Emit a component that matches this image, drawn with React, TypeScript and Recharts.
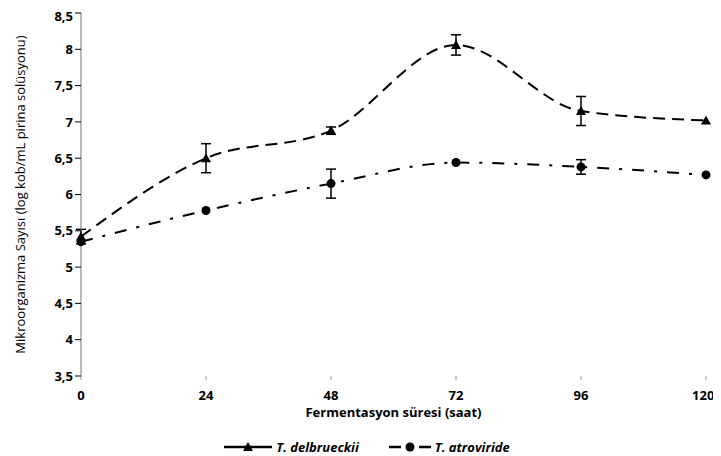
import React from 'react';
import { LineChart, Line, XAxis, YAxis, ErrorBar, Legend } from 'recharts';

const hours = [0, 24, 48, 72, 96, 120];
const delbrueckii = [5.42, 6.5, 6.88, 8.06, 7.15, 7.02];
const delbrueckiiErr = [0.1, 0.2, 0.05, 0.14, 0.2, 0];
const atroviride = [5.35, 5.78, 6.15, 6.44, 6.38, 6.27];
const atrovirideErr = [0, 0, 0.2, 0, 0.1, 0];
const yTicks = [3.5, 4, 4.5, 5, 5.5, 6, 6.5, 7, 7.5, 8, 8.5];

const data = hours.map((h, i) => ({
  hour: h,
  delb: delbrueckii[i],
  delbErr: delbrueckiiErr[i],
  atro: atroviride[i],
  atroErr: atrovirideErr[i],
}));

const FONT = '"Open Sans", "DejaVu Sans", sans-serif';

const Triangle = (props: any) => {
  const { cx, cy } = props;
  if (cx == null || cy == null) return null;
  return <path d={`M${cx},${cy - 5} L${cx + 5},${cy + 4} L${cx - 5},${cy + 4} Z`} fill="#000" />;
};

const Dot = (props: any) => {
  const { cx, cy } = props;
  if (cx == null || cy == null) return null;
  return <circle cx={cx} cy={cy} r={4.5} fill="#000" />;
};

const LegendContent = () => (
  <div style={{ display: 'flex', justifyContent: 'center', alignItems: 'center', fontFamily: FONT, fontSize: 13, fontWeight: 700, fontStyle: 'italic', height: 18, paddingLeft: 20 }}>
    <svg width={48} height={12} style={{ marginRight: 4 }}>
      <line x1={0} y1={6} x2={48} y2={6} stroke="#000" strokeWidth={2.5} />
      <path d="M24,1 L29,10 L19,10 Z" fill="#000" />
    </svg>
    <span style={{ marginRight: 30 }}>T. delbrueckii</span>
    <svg width={42} height={12} style={{ marginRight: 4 }}>
      <line x1={0} y1={6} x2={42} y2={6} stroke="#000" strokeWidth={2.5} strokeDasharray="12 18 12" />
      <circle cx={21} cy={6} r={4.5} fill="#000" />
    </svg>
    <span>T. atroviride</span>
  </div>
);

export default function App() {
  return (
    <div style={{ width: 705, height: 448 }}>
      <LineChart width={705} height={448} data={data} margin={{ top: 5, right: 7, left: 0, bottom: 0 }}>
        <XAxis
          dataKey="hour"
          type="number"
          domain={[0, 120]}
          ticks={hours}
          axisLine={false}
          tickLine={{ stroke: '#999' }}
          tickSize={4}
          height={62}
          tick={{ fontFamily: FONT, fontSize: 13, fontWeight: 700, fill: '#000', dy: 9 }}
          label={{ value: 'Fermentasyon süresi (saat)', position: 'insideTop', offset: 32, style: { fontFamily: FONT, fontSize: 13, fontWeight: 700, fill: '#000' } }}
        />
        <YAxis
          type="number"
          domain={[3.5, 8.5]}
          ticks={yTicks}
          width={73}
          axisLine={{ stroke: '#777' }}
          tickLine={{ stroke: '#000' }}
          tickSize={6}
          tickFormatter={(v: number) => String(v).replace('.', ',')}
          tick={{ fontFamily: FONT, fontSize: 13, fontWeight: 700, fill: '#000' }}
          label={{ value: 'Mikroorganizma Sayısı (log kob/mL pirina solüsyonu)', angle: -90, position: 'insideLeft', offset: 12, style: { textAnchor: 'middle', fontFamily: FONT, fontSize: 13, fill: '#000' } }}
        />
        <Legend verticalAlign="bottom" content={<LegendContent />} />
        <Line
          type="monotone"
          dataKey="delb"
          stroke="#000"
          strokeWidth={2}
          strokeDasharray="12 7"
          dot={<Triangle />}
          activeDot={false}
          isAnimationActive={false}
        >
          <ErrorBar dataKey="delbErr" width={5} stroke="#000" strokeWidth={1.5} direction="y" />
        </Line>
        <Line
          type="monotone"
          dataKey="atro"
          stroke="#000"
          strokeWidth={2}
          strokeDasharray="12 10 3 10"
          dot={<Dot />}
          activeDot={false}
          isAnimationActive={false}
        >
          <ErrorBar dataKey="atroErr" width={5} stroke="#000" strokeWidth={1.5} direction="y" />
        </Line>
      </LineChart>
    </div>
  );
}
